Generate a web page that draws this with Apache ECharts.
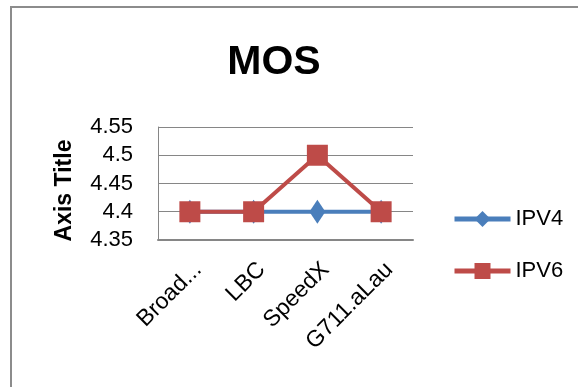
<!DOCTYPE html>
<html>
<head>
<meta charset="utf-8">
<script src="https://cdn.jsdelivr.net/npm/echarts@6/dist/echarts.min.js"></script>
<style>
  html, body { margin: 0; padding: 0; background: #fff; }
  #chart { width: 578px; height: 387px; }
</style>
</head>
<body>
<div id="chart"></div>
<script>
// MOS scores per codec, IPv4 vs IPv6
const categories = ['Broad...', 'LBC', 'SpeedX', 'G711.aLau'];
const ipv4 = [4.4, 4.4, 4.4, 4.4];
const ipv6 = [4.4, 4.4, 4.5, 4.4];
const yMin = 4.35;
const yMax = 4.55;
const yStep = 0.05;

const FONT = '"Liberation Sans", Arial, sans-serif';
const BLUE = '#4a7ebb';
const RED = '#be4b48';
const GRID = '#868686';

const chart = echarts.init(document.getElementById('chart'));
chart.setOption({
  backgroundColor: '#ffffff',
  animation: false,
  textStyle: { fontFamily: FONT, color: '#000' },
  title: {
    text: 'MOS',
    left: 269,
    top: 37,
    textAlign: 'center',
    textStyle: { fontFamily: FONT, fontSize: 41, fontWeight: 'bold', color: '#000' }
  },
  graphic: [
    {
      type: 'rect',
      shape: { x: 11, y: 7, width: 700, height: 500 },
      style: { fill: 'none', stroke: '#8c8c8c', lineWidth: 2 },
      silent: true
    }
  ],
  legend: {
    orient: 'vertical',
    left: 447,
    top: 203,
    itemWidth: 56,
    itemHeight: 20,
    itemGap: 30,
    lineStyle: { width: 5 },
    textStyle: { fontFamily: FONT, fontSize: 22, color: '#000' },
    data: ['IPV4', 'IPV6']
  },
  grid: { left: 158, right: 165, top: 127, bottom: 147 },
  xAxis: {
    type: 'category',
    data: categories,
    boundaryGap: true,
    axisLine: { show: true, lineStyle: { color: GRID, width: 2 } },
    axisTick: { show: false },
    axisLabel: {
      rotate: 45,
      interval: 0,
      margin: 18,
      verticalAlign: 'top',
      fontFamily: FONT,
      fontSize: 23,
      color: '#000'
    }
  },
  yAxis: {
    type: 'value',
    min: yMin,
    max: yMax,
    interval: yStep,
    name: 'Axis Title',
    nameLocation: 'middle',
    nameGap: 82,
    nameRotate: 90,
    nameTextStyle: { fontFamily: FONT, fontSize: 23, fontWeight: 'bold', color: '#000', padding: [0, 14, 0, 0] },
    axisLine: { show: true, lineStyle: { color: GRID, width: 1 } },
    axisTick: { show: false },
    splitLine: { show: true, lineStyle: { color: GRID, width: 1 } },
    axisLabel: {
      margin: 25,
      fontFamily: FONT,
      fontSize: 22,
      color: '#000',
      formatter: v => String(Math.round(v * 100) / 100)
    }
  },
  series: [
    {
      name: 'IPV4',
      type: 'line',
      data: ipv4,
      symbol: 'diamond',
      symbolSize: [16, 24],
      itemStyle: { color: BLUE },
      lineStyle: { color: BLUE, width: 4 },
      z: 2
    },
    {
      name: 'IPV6',
      type: 'line',
      data: ipv6,
      symbol: 'rect',
      symbolSize: 21,
      itemStyle: { color: RED },
      lineStyle: { color: RED, width: 4 },
      z: 3
    }
  ]
});
</script>
</body>
</html>
